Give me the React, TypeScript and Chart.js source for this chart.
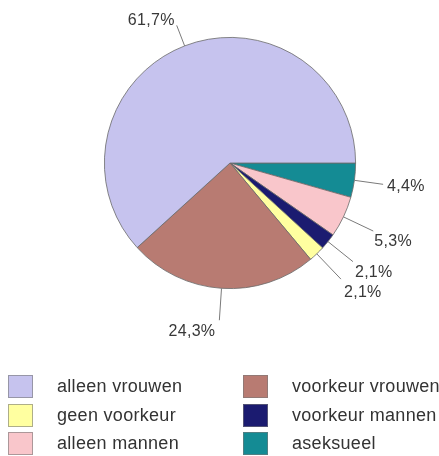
import React, { useEffect, useRef } from "react";
import { Chart, registerables } from "chart.js";

Chart.register(...registerables);

// Slices in drawing order (clockwise from 3 o'clock)
const sliceLabels = ["aseksueel", "alleen mannen", "voorkeur mannen", "geen voorkeur", "voorkeur vrouwen", "alleen vrouwen"];
const sliceValues = [4.4, 5.3, 2.1, 2.1, 24.3, 61.7];
const valueTexts = ["4,4%", "5,3%", "2,1%", "2,1%", "24,3%", "61,7%"];
const sliceColors = ["#148b94", "#f9c6cb", "#1b1b70", "#ffffa0", "#b87b72", "#c6c3ee"];

// Legend order (row-major, two columns)
const legendOrder = ["alleen vrouwen", "voorkeur vrouwen", "geen voorkeur", "voorkeur mannen", "alleen mannen", "aseksueel"];

// label placement: extra leader length, text offset from leader end, alignment
const labelPlacement = [
  { len: 29, dx: 4, dy: 2, align: "left" },
  { len: 33, dx: 1, dy: 11, align: "left" },
  { len: 32, dx: 2, dy: 11, align: "left" },
  { len: 35, dx: 3, dy: 13, align: "left" },
  { len: 32, dx: -4, dy: 11, align: "right" },
  { len: 22, dx: -2, dy: -5, align: "right" },
];

const labelPlugin = {
  id: "pieLabels",
  afterDatasetsDraw(chart: any) {
    const ctx = chart.ctx;
    const meta = chart.getDatasetMeta(0);
    ctx.save();
    meta.data.forEach((arc: any, i: number) => {
      const p = arc.getProps(["x", "y", "startAngle", "endAngle", "outerRadius"], true);
      const mid = (p.startAngle + p.endAngle) / 2;
      const pl = labelPlacement[i];
      const x0 = p.x + Math.cos(mid) * p.outerRadius;
      const y0 = p.y + Math.sin(mid) * p.outerRadius;
      const r1 = p.outerRadius + pl.len;
      const x1 = p.x + Math.cos(mid) * r1;
      const y1 = p.y + Math.sin(mid) * r1;
      ctx.strokeStyle = "#7a7a7a";
      ctx.lineWidth = 1;
      ctx.beginPath();
      ctx.moveTo(x0, y0);
      ctx.lineTo(x1, y1);
      ctx.stroke();
      ctx.fillStyle = "#383838";
      ctx.font = "16px 'Liberation Sans', Arial, sans-serif";
      (ctx as any).letterSpacing = "0.3px";
      ctx.textAlign = pl.align;
      ctx.textBaseline = "middle";
      ctx.fillText(valueTexts[i], x1 + pl.dx, y1 + pl.dy);
    });
    ctx.restore();
  },
};

const legendPlugin = {
  id: "customLegend",
  afterDraw(chart: any) {
    const ctx = chart.ctx;
    const colX = [8, 243];
    const textX = [57, 292];
    const rowY = [375, 404, 432];
    ctx.save();
    legendOrder.forEach((name, k) => {
      const idx = sliceLabels.indexOf(name);
      const col = k % 2;
      const row = Math.floor(k / 2);
      const bx = colX[col];
      const by = rowY[row];
      ctx.fillStyle = sliceColors[idx];
      ctx.fillRect(bx, by, 25, 23);
      ctx.strokeStyle = "rgba(120,120,120,0.6)";
      ctx.lineWidth = 1;
      ctx.strokeRect(bx + 0.5, by + 0.5, 24, 22);
      ctx.fillStyle = "#333333";
      ctx.font = "18px 'Liberation Sans', Arial, sans-serif";
      (ctx as any).letterSpacing = "0.3px";
      ctx.textAlign = "left";
      ctx.textBaseline = "middle";
      ctx.fillText(name, textX[col], by + 12);
    });
    ctx.restore();
  },
};

export default function App() {
  const ref = useRef<HTMLCanvasElement>(null);
  useEffect(() => {
    document.body.style.margin = "0";
    const chart = new Chart(ref.current!, {
      type: "pie",
      data: {
        labels: sliceLabels,
        datasets: [
          {
            data: sliceValues,
            backgroundColor: sliceColors,
            borderColor: "#6a6a6a",
            borderWidth: 0.8,
          },
        ],
      },
      options: {
        responsive: false,
        animation: false,
        rotation: 90,
        layout: { padding: { left: 104, right: 83, top: 37, bottom: 167 } },
        plugins: { legend: { display: false }, tooltip: { enabled: false } },
      },
      plugins: [labelPlugin, legendPlugin],
    } as any);
    return () => chart.destroy();
  }, []);
  return (
    <div style={{ position: "fixed", left: 0, top: 0, width: 439, height: 456, background: "#fff" }}>
      <canvas ref={ref} width={439} height={456} />
    </div>
  );
}
